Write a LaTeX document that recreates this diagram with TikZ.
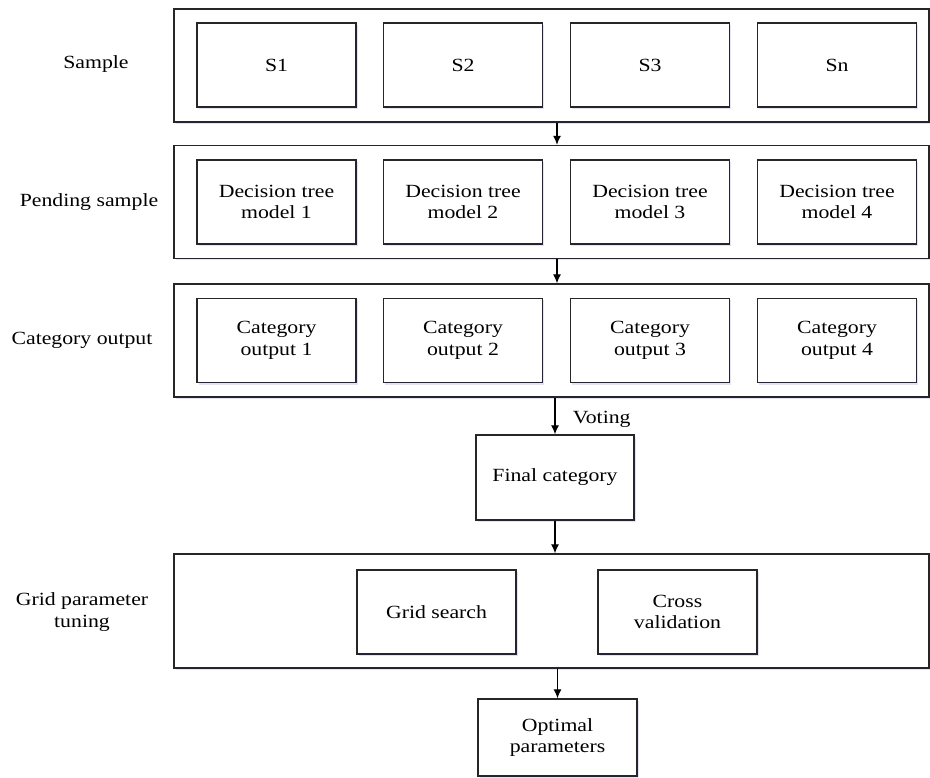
\documentclass[tikz,border=0pt]{standalone}
\usepackage{fontspec}
\setmainfont{Liberation Serif}[FakeStretch=1.17]
\usepackage{tikz}
\usetikzlibrary{arrows.meta}
\usetikzlibrary{positioning}
\usetikzlibrary{shadows}

\begin{document}
\begin{tikzpicture}[x=1pt, y=-1pt,
		every node/.style={font=\fontsize{18.6}{21.7}\selectfont},
		box/.style={draw=black!85, line width=1.3pt, fill=white, inner sep=0pt, align=center,
			drop shadow={shadow xshift=1.5pt, shadow yshift=-2pt, fill=blue!25, opacity=0.45}},
		rowbox/.style={box, minimum width=755pt, minimum height=113pt},
		inbox/.style={box, minimum width=159pt, minimum height=84pt},
		arr/.style={line width=1.2pt, -{Latex[length=9pt, width=8pt]}}]
	\useasboundingbox (0,0) rectangle (930,778);
	% outer rows
	\node[rowbox] (row1) at (551.5,65.5) {};
	\node[rowbox] (row2) at (551.5,202) {};
	\node[rowbox] (row3) at (551.5,340.5) {};
	\node[rowbox, minimum height=114pt] (row4) at (551.5,611) {};
	% row labels
	\node (lsample) at (96,64) {Sample};
	\node (lpending) at (89,202) {Pending sample};
	\node (lcategory) at (82,340) {Category output};
	\node[align=center] (lgrid) at (82,612) {Grid parameter\\tuning};
	% inner boxes
	\foreach \x/\n/\t in {276.5/s1/S1, 463/s2/S2, 650/s3/S3, 837/sn/Sn} {
		\node[inbox] (\n) at (\x,65) {\t};
	}
	\foreach \i/\x in {1/276.5, 2/463, 3/650, 4/837} {
		\node[inbox] (dt\i) at (\x,202) {Decision tree\\model \i};
		\node[inbox] (co\i) at (\x,340.5) {Category\\output \i};
	}
	\node[inbox, minimum width=158pt, minimum height=85pt] (final) at (555,477.5) {Final category};
	\node[inbox] (gs) at (436.5,612) {Grid search};
	\node[inbox] (cv) at (677.5,612) {Cross\\validation};
	\node[inbox, minimum height=77pt] (opt) at (557.5,737.5) {Optimal\\parameters};
	% connectors
	\coordinate (mid) at (557,0);
	\draw[arr] (row1.south -| mid) -- (row2.north -| mid);
	\draw[arr] (row2.south -| mid) -- (row3.north -| mid);
	\draw[arr] (row3.south -| final) -- (final.north) node[midway, right=14pt, yshift=-3pt] (vote) {Voting};
	\draw[arr] (final.south) -- (row4.north -| final);
	\draw[arr] (row4.south -| opt) -- (opt.north);
\end{tikzpicture}
\end{document}
